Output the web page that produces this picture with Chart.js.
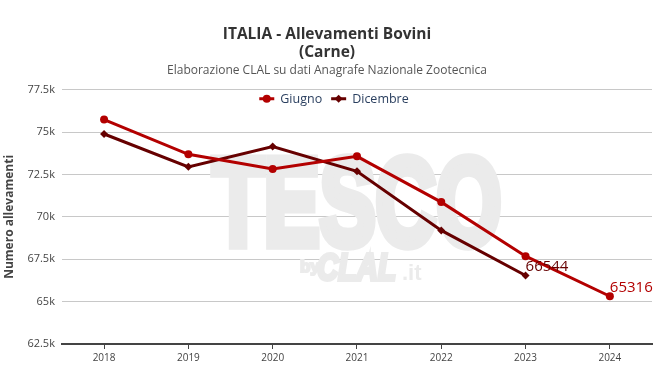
<!DOCTYPE html>
<html lang="it">
<head>
    <meta charset="UTF-8">
    <title>ITALIA - Allevamenti Bovini (Carne)</title>
    <script src="https://cdn.jsdelivr.net/npm/chart.js"></script>
    <style>
        html, body { margin: 0; padding: 0; background: #fff; }
        #wrap { width: 664px; height: 369px; }
    </style>
</head>
<body>
    <div id="wrap"><canvas id="lineChart"></canvas></div>

    <script>
        // Data
        const years = ['2018', '2019', '2020', '2021', '2022', '2023', '2024'];
        const giugno = [75740, 73690, 72830, 73570, 70870, 67680, 65316];
        const dicembre = [74890, 72950, 74150, 72690, 69200, 66544, null];
        const yTicks = [62500, 65000, 67500, 70000, 72500, 75000, 77500];

        const colGiugno = '#b30000';
        const colDicembre = '#660000';
        const font = '"Open Sans", "Noto Sans", sans-serif';

        // grey watermark behind the lines
        const watermark = {
            id: 'watermark',
            beforeDatasetsDraw(chart) {
                const ctx = chart.ctx;
                const x = chart.scales.x.getPixelForValue(3);
                const y = chart.scales.y.getPixelForValue(68170);
                ctx.save();
                ctx.fillStyle = '#ebebeb';
                ctx.strokeStyle = '#ebebeb';
                ctx.lineJoin = 'miter';
                ctx.textBaseline = 'alphabetic';
                ctx.textAlign = 'center';
                ctx.save();
                ctx.translate(x, y - 3);
                ctx.scale(0.64, 0.95);
                ctx.font = 'bold 131px "Liberation Sans", sans-serif';
                ctx.lineWidth = 10;
                ctx.fillText('TESCO', 0, 0);
                ctx.strokeText('TESCO', 0, 0);
                ctx.restore();
                ctx.textAlign = 'left';
                ctx.lineWidth = 2;
                ctx.font = 'bold 17px "Liberation Sans", sans-serif';
                ctx.fillText('by', x - 57, y + 24);
                ctx.strokeText('by', x - 57, y + 24);
                ctx.save();
                ctx.translate(x - 40, y + 32);
                ctx.scale(0.76, 0.95);
                ctx.font = 'italic bold 39px "Liberation Sans", sans-serif';
                ctx.lineWidth = 4;
                ctx.fillText('CLAL', 0, 0);
                ctx.strokeText('CLAL', 0, 0);
                ctx.restore();
                ctx.font = 'bold 22px "Liberation Sans", sans-serif';
                ctx.fillText('.it', x + 45, y + 32);
                ctx.restore();
            }
        };

        // horizontal legend inside the top of the plot
        const innerLegend = {
            id: 'innerLegend',
            afterDraw(chart) {
                const ctx = chart.ctx;
                const y = chart.chartArea.top + 9;
                ctx.save();
                ctx.font = '12.5px ' + font;
                ctx.textBaseline = 'middle';
                const items = chart.data.datasets.map(ds => ({
                    ds, w: 15 + 6 + ctx.measureText(ds.label).width
                }));
                const gap = 9;
                let total = items.reduce((s, it) => s + it.w, 0) + gap * (items.length - 1);
                let x = chart.width / 2 - total / 2 + 2;
                items.forEach(it => {
                    const ds = it.ds;
                    ctx.strokeStyle = ds.borderColor;
                    ctx.lineWidth = 3;
                    ctx.beginPath();
                    ctx.moveTo(x, y);
                    ctx.lineTo(x + 15, y);
                    ctx.stroke();
                    ctx.fillStyle = ds.borderColor;
                    Chart.helpers.drawPoint(ctx, {
                        pointStyle: ds.pointStyle, radius: ds.pointRadius, borderWidth: 0, rotation: 0
                    }, x + 7.5, y);
                    ctx.fillStyle = '#2a3f5f';
                    ctx.fillText(ds.label, x + 21, y + 0.5);
                    x += it.w + gap;
                });
                ctx.restore();
            }
        };

        // value label next to the last point of each series
        const lastLabel = {
            id: 'lastLabel',
            afterDatasetsDraw(chart) {
                const ctx = chart.ctx;
                ctx.save();
                ctx.font = '15px ' + font;
                ctx.textAlign = 'left';
                ctx.textBaseline = 'bottom';
                chart.data.datasets.forEach((ds, i) => {
                    let idx = ds.data.length - 1;
                    while (idx >= 0 && ds.data[idx] == null) idx--;
                    const pt = chart.getDatasetMeta(i).data[idx];
                    ctx.fillStyle = ds.borderColor;
                    ctx.fillText(String(ds.data[idx]), pt.x, pt.y - 1);
                });
                ctx.restore();
            }
        };

        const ctx = document.getElementById('lineChart').getContext('2d');
        new Chart(ctx, {
            type: 'line',
            data: {
                labels: years,
                datasets: [
                    {
                        label: 'Giugno',
                        data: giugno,
                        borderColor: colGiugno,
                        backgroundColor: colGiugno,
                        borderWidth: 3,
                        pointStyle: 'circle',
                        pointRadius: 4,
                        pointBorderWidth: 0,
                        tension: 0
                    },
                    {
                        label: 'Dicembre',
                        data: dicembre,
                        borderColor: colDicembre,
                        backgroundColor: colDicembre,
                        borderWidth: 3,
                        pointStyle: 'rectRot',
                        pointRadius: 4,
                        pointBorderWidth: 0,
                        tension: 0
                    }
                ]
            },
            options: {
                responsive: true,
                maintainAspectRatio: false,
                animation: false,
                layout: { padding: { left: 2, right: 12, top: 26, bottom: 2 } },
                plugins: {
                    title: {
                        display: true,
                        text: ['ITALIA - Allevamenti Bovini', '(Carne)'],
                        color: '#333',
                        font: { family: font, size: 15.5, weight: 'bold', lineHeight: 1.14 },
                        padding: { top: 0, bottom: 2 }
                    },
                    subtitle: {
                        display: true,
                        text: 'Elaborazione CLAL su dati Anagrafe Nazionale Zootecnica',
                        color: '#555',
                        font: { family: font, size: 12 },
                        padding: { top: 0, bottom: 12 }
                    },
                    legend: { display: false },
                    tooltip: { enabled: false }
                },
                scales: {
                    x: {
                        offset: true,
                        grid: {
                            drawOnChartArea: false,
                            drawTicks: true,
                            tickLength: 5,
                            color: '#444'
                        },
                        border: { display: true, color: '#444', width: 2 },
                        ticks: { color: '#444', font: { family: font, size: 10 }, padding: 3 }
                    },
                    y: {
                        min: 62500,
                        max: 77500,
                        afterBuildTicks(axis) {
                            axis.ticks = yTicks.map(v => ({ value: v }));
                        },
                        grid: { color: '#c8c8c8', drawTicks: false },
                        border: { display: false },
                        ticks: {
                            color: '#444',
                            font: { family: font, size: 11 },
                            padding: 7,
                            callback: v => (v / 1000) + 'k'
                        },
                        title: {
                            display: true,
                            text: 'Numero allevamenti',
                            color: '#444',
                            font: { family: font, size: 12, weight: 'bold' },
                            padding: { top: 0, bottom: 4 }
                        }
                    }
                }
            },
            plugins: [watermark, innerLegend, lastLabel]
        });
    </script>
</body>
</html>
